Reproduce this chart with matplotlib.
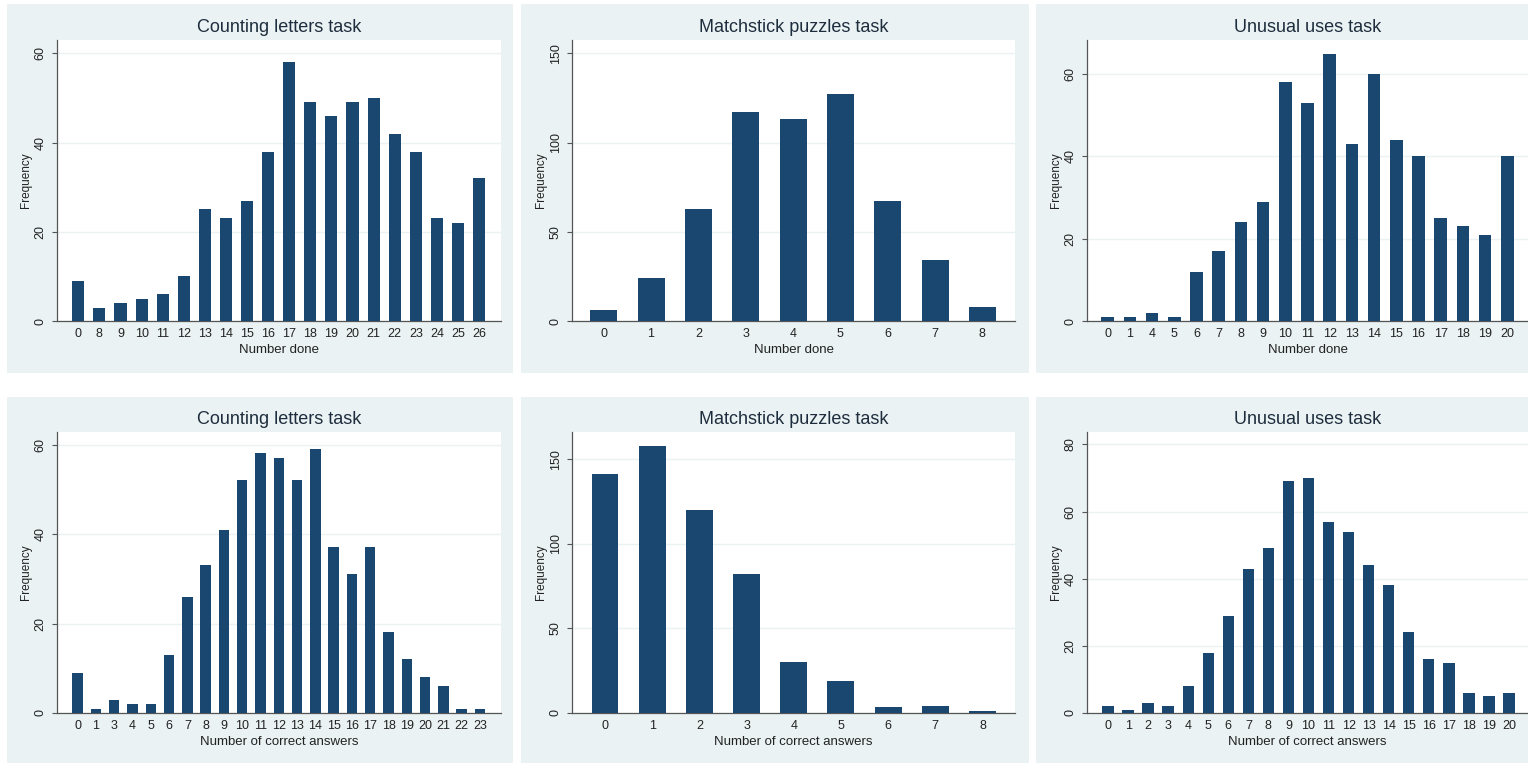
import matplotlib
matplotlib.use("Agg")
import matplotlib.pyplot as plt
from matplotlib.patches import Rectangle

plt.rcParams["font.family"] = ["Liberation Sans", "DejaVu Sans"]

# Top row: number done
cl_done_cats = ["0", "8", "9", "10", "11", "12", "13", "14", "15", "16", "17",
                "18", "19", "20", "21", "22", "23", "24", "25", "26"]
cl_done_freq = [9, 3, 4, 5, 6, 10, 25, 23, 27, 38, 58, 49, 46, 49, 50, 42, 38, 23, 22, 32]

mp_done_cats = ["0", "1", "2", "3", "4", "5", "6", "7", "8"]
mp_done_freq = [6, 24, 63, 117, 113, 127, 67, 34, 8]

uu_done_cats = ["0", "1", "4", "5", "6", "7", "8", "9", "10", "11", "12", "13",
                "14", "15", "16", "17", "18", "19", "20"]
uu_done_freq = [1, 1, 2, 1, 12, 17, 24, 29, 58, 53, 65, 43, 60, 44, 40, 25, 23, 21, 40]

# Bottom row: number of correct answers
cl_corr_cats = ["0", "1", "3", "4", "5", "6", "7", "8", "9", "10", "11", "12",
                "13", "14", "15", "16", "17", "18", "19", "20", "21", "22", "23"]
cl_corr_freq = [9, 1, 3, 2, 2, 13, 26, 33, 41, 52, 58, 57, 52, 59, 37, 31, 37, 18, 12, 8, 6, 1, 1]

mp_corr_cats = ["0", "1", "2", "3", "4", "5", "6", "7", "8"]
mp_corr_freq = [141, 158, 120, 82, 30, 19, 3.5, 4, 1]

uu_corr_cats = [str(i) for i in range(21)]
uu_corr_freq = [2, 1, 3, 2, 8, 18, 29, 43, 49, 69, 70, 57, 54, 44, 38, 24, 16, 15, 6, 5, 6]

titles = ["Counting letters task", "Matchstick puzzles task", "Unusual uses task"]
xlabels = ["Number done", "Number of correct answers"]

bar_color = "#1a476f"
bg_color = "#eaf2f3"
axis_color = "#555555"
W, H = 1528, 764

fig = plt.figure(figsize=(W / 100, H / 100), dpi=100)
fig.patch.set_facecolor("white")


def px_box(x0, y0, x1, y1):
    # pixel box (top-left origin) -> figure fraction [l, b, w, h]
    return [x0 / W, 1 - y1 / H, (x1 - x0) / W, (y1 - y0) / H]


panel_cols = [(7, 513), (521, 1029), (1036, 1528)]
panel_rows = [(4, 373), (397, 763)]
axes_cols = [(57, 501), (572, 1015), (1087, 1528)]
axes_rows = [(40, 321), (432, 713)]

panels = [
    [(cl_done_cats, cl_done_freq, 63, [0, 20, 40, 60], (1.01, 1.04)),
     (mp_done_cats, mp_done_freq, 157.5, [0, 50, 100, 150], (0.67, 0.69)),
     (uu_done_cats, uu_done_freq, 68.3, [0, 20, 40, 60], (0.93, 0.93))],
    [(cl_corr_cats, cl_corr_freq, 62.8, [0, 20, 40, 60], (1.13, 1.15)),
     (mp_corr_cats, mp_corr_freq, 166, [0, 50, 100, 150], (0.70, 0.69)),
     (uu_corr_cats, uu_corr_freq, 83.7, [0, 20, 40, 60, 80], (1.05, 0.95))],
]

for r in range(2):
    for c in range(3):
        px0, px1 = panel_cols[c]
        py0, py1 = panel_rows[r]
        bg = Rectangle((px0 / W, 1 - py1 / H), (px1 - px0) / W, (py1 - py0) / H,
                       transform=fig.transFigure, facecolor=bg_color, edgecolor="none")
        bg.set_zorder(-10)
        fig.add_artist(bg)

        cats, freq, ytop, yticks, pads = panels[r][c]
        ax = fig.add_axes(px_box(axes_cols[c][0], axes_rows[r][0], axes_cols[c][1], axes_rows[r][1]))
        ax.set_facecolor("white")
        x = range(len(cats))
        ax.bar(x, freq, width=0.57, color=bar_color, zorder=3)
        ax.set_xlim(-pads[0], len(cats) - 1 + pads[1])
        ax.set_ylim(0, ytop)
        ax.set_xticks(list(x))
        ax.set_xticklabels(cats)
        ax.set_yticks(yticks)
        ax.set_yticklabels([str(v) for v in yticks], rotation=90, va="center")
        ax.grid(axis="y", color=bg_color, linewidth=1.0, zorder=0)
        ax.set_axisbelow(True)
        for side in ["top", "right"]:
            ax.spines[side].set_visible(False)
        for side in ["left", "bottom"]:
            ax.spines[side].set_color(axis_color)
            ax.spines[side].set_linewidth(0.9)
        ax.tick_params(axis="x", length=0, pad=5, labelsize=9, labelcolor="#222222")
        ax.tick_params(axis="y", length=3.5, width=0.8, color=axis_color, pad=4,
                       labelsize=9, labelcolor="#222222")
        ax.set_title(titles[c], fontsize=13, color="#1e2d3d", pad=6)
        ax.set_xlabel(xlabels[r], fontsize=9.5, color="#222222", labelpad=3)
        ax.set_ylabel("Frequency", fontsize=8.5, color="#222222", labelpad=2)

fig.savefig("out.png", dpi=100, facecolor="white")
